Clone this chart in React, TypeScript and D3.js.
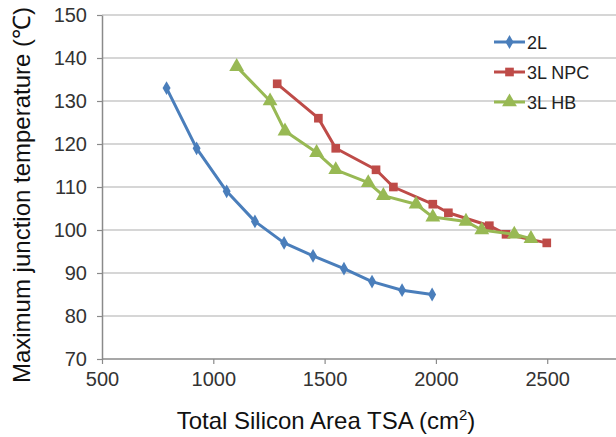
import { useEffect, useRef } from 'react';
import * as d3 from 'd3';

// Series
const seriesNames = ['2L', '3L NPC', '3L HB'];
const seriesColors = ['#4a7ebb', '#be4b48', '#98b954'];

const tsa2L = [790, 925, 1060, 1187, 1318, 1448, 1587, 1713, 1848, 1983];
const temp2L = [133, 119, 109, 102, 97, 94, 91, 88, 86, 85];

const tsaNPC = [1287, 1472, 1550, 1731, 1809, 1986, 2056, 2240, 2315, 2498];
const tempNPC = [134, 126, 119, 114, 110, 106, 104, 101, 99, 97];

const tsaHB = [1105, 1255, 1322, 1464, 1550, 1696, 1764, 1911, 1986, 2135, 2206, 2352, 2427];
const tempHB = [138, 130, 123, 118, 114, 111, 108, 106, 103, 102, 100, 99, 98];

const xTicks = [500, 1000, 1500, 2000, 2500];
const yTicks = [70, 80, 90, 100, 110, 120, 130, 140, 150];

type Point = { x: number; y: number };

function App() {
  const ref = useRef(null);

  const svgWidth = 616;
  const svgHeight = 437;

  useEffect(() => {
    drawChart();
  }, []);

  function drawChart() {
    const left = 102;
    const right = 614;
    const top = 15;
    const bottom = 359;
    const font = 'Liberation Sans, Arial, sans-serif';

    const svg = d3.select(ref.current);
    svg.selectAll('*').remove();

    const x = d3.scaleLinear().domain([500, 2800]).range([left, right]);
    const y = d3.scaleLinear().domain([70, 150]).range([bottom, top]);

    // Gridlines
    svg
      .append('g')
      .selectAll('line')
      .data(yTicks.slice(1))
      .join('line')
      .attr('x1', left)
      .attr('x2', svgWidth)
      .attr('y1', (d) => y(d))
      .attr('y2', (d) => y(d))
      .attr('stroke', '#c8c8c8')
      .attr('stroke-width', 1.5);

    // x-axis
    const xAxis = svg
      .append('g')
      .attr('transform', `translate(0, ${bottom})`)
      .call(
        d3.axisBottom(x).tickValues(xTicks).tickFormat(d3.format('d'))
          .tickSize(5).tickSizeOuter(0).tickPadding(8)
      );
    xAxis.select('.domain').attr('stroke', '#8a8a8a').attr('stroke-width', 1.5)
      .attr('d', `M${left},0H${svgWidth}`);
    xAxis.selectAll('.tick line').attr('stroke', '#8a8a8a').attr('stroke-width', 1.2);
    xAxis.selectAll('.tick text')
      .attr('font-family', font)
      .attr('font-size', 20)
      .attr('fill', '#333');

    // y-axis
    const yAxis = svg
      .append('g')
      .attr('transform', `translate(${left}, 0)`)
      .call(d3.axisLeft(y).tickValues(yTicks).tickSize(5).tickSizeOuter(0).tickPadding(10));
    yAxis.select('.domain').attr('stroke', '#8a8a8a').attr('stroke-width', 1.5);
    yAxis.selectAll('.tick line').attr('stroke', '#8a8a8a').attr('stroke-width', 1.2);
    yAxis.selectAll('.tick text')
      .attr('font-family', font)
      .attr('font-size', 20)
      .attr('fill', '#333');

    // Axis titles
    const xTitle = svg
      .append('text')
      .attr('x', 326)
      .attr('y', 429)
      .attr('text-anchor', 'middle')
      .attr('font-family', font)
      .attr('font-size', 24)
      .attr('fill', '#111');
    xTitle.append('tspan').text('Total Silicon Area TSA (cm');
    xTitle.append('tspan').attr('dy', -9).attr('font-size', 15).text('2');
    xTitle.append('tspan').attr('dy', 9).text(')');

    svg
      .append('text')
      .attr('transform', 'rotate(-90)')
      .attr('x', -195)
      .attr('y', 30)
      .attr('text-anchor', 'middle')
      .attr('font-family', font)
      .attr('font-size', 24)
      .attr('fill', '#111')
      .text('Maximum junction temperature (\u2103)');

    // Series
    const symbols = [d3.symbolDiamond, d3.symbolSquare, d3.symbolTriangle];
    const symbolSizes = [55, 75, 95];
    const allSeries: Point[][] = [
      tsa2L.map((v, i) => ({ x: v, y: temp2L[i] })),
      tsaNPC.map((v, i) => ({ x: v, y: tempNPC[i] })),
      tsaHB.map((v, i) => ({ x: v, y: tempHB[i] })),
    ];

    const line = d3
      .line<Point>()
      .x((d) => x(d.x))
      .y((d) => y(d.y));

    allSeries.forEach((data, i) => {
      const g = svg.append('g');
      g.append('path')
        .datum(data)
        .attr('d', line)
        .attr('fill', 'none')
        .attr('stroke', seriesColors[i])
        .attr('stroke-width', 3)
        .attr('stroke-linejoin', 'round');
      g.selectAll('path.marker')
        .data(data)
        .join('path')
        .attr('class', 'marker')
        .attr('transform', (d) => `translate(${x(d.x)}, ${y(d.y)})`)
        .attr('d', d3.symbol().type(symbols[i]).size(symbolSizes[i]))
        .attr('fill', seriesColors[i]);
    });

    // Legend
    const legend = svg.append('g').attr('transform', 'translate(494, 42)');
    seriesNames.forEach((name, i) => {
      const row = legend.append('g').attr('transform', `translate(0, ${i * 30})`);
      row.append('line')
        .attr('x1', 0)
        .attr('x2', 31)
        .attr('stroke', seriesColors[i])
        .attr('stroke-width', 3);
      row.append('path')
        .attr('transform', 'translate(15.5, 0)')
        .attr('d', d3.symbol().type(symbols[i]).size(symbolSizes[i]))
        .attr('fill', seriesColors[i]);
      row.append('text')
        .attr('x', 33)
        .attr('y', 6.5)
        .attr('font-family', font)
        .attr('font-size', 18)
        .attr('fill', '#222')
        .text(name);
    });
  }

  return (
    <svg
      ref={ref}
      width={svgWidth}
      height={svgHeight}
      style={{ position: 'absolute', left: 0, top: 0, background: '#fff' }}
    ></svg>
  );
}

export default App;
